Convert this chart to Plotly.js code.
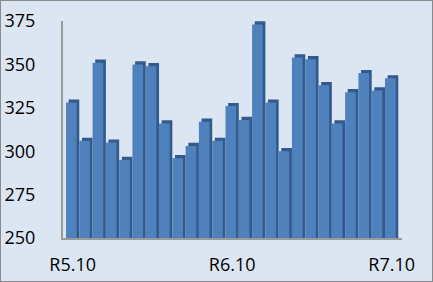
<!DOCTYPE html>
<html>
<head>
<meta charset="utf-8">
<script src="https://cdn.plot.ly/plotly-3.0.1.min.js"></script>
<style>
html,body{margin:0;padding:0;background:#dce6f2;}
#chart{width:431px;height:280px;border:1px solid #8a8a8a;}
</style>
</head>
<body>
<div id="chart"></div>
<script>
const categories = ["R5.10","R5.11","R5.12","R6.1","R6.2","R6.3","R6.4","R6.5","R6.6","R6.7","R6.8","R6.9","R6.10","R6.11","R6.12","R7.1","R7.2","R7.3","R7.4","R7.5","R7.6","R7.7","R7.8","R7.9","R7.10"];
const values = [328,306,351,305,295,350,349,316,296,303,317,306,326,318,373,328,300,354,353,338,316,334,345,335,342];
const tickLabels = ["R5.10","R6.10","R7.10"];

const depth = 1.8;
const xIdx = categories.map((c,i)=>i);
const shadow = {
  type:'bar', x:xIdx, y:values.map(v=>v+depth-250), base:250,
  offset:-0.3, width:0.8,
  marker:{color:'#325a8c'}, hoverinfo:'skip', showlegend:false
};
const front = {
  type:'bar', x:xIdx, y:values.map(v=>v-250), base:250,
  offset:-0.5, width:0.8,
  marker:{color:'#4f81bd'}, showlegend:false
};

const layout = {
  width:431, height:280,
  margin:{l:62, r:30, t:20, b:43},
  paper_bgcolor:'#dce6f2', plot_bgcolor:'#dce6f2',
  barmode:'overlay',
  xaxis:{
    range:[-0.726, 24.78], showgrid:false, zeroline:false,
    showline:true, linecolor:'#9a9a9a', linewidth:2,
    tickvals:tickLabels.map(t=>categories.indexOf(t)), ticktext:tickLabels,
    ticks:'', ticklabelstandoff:9,
    tickfont:{family:'Open Sans', size:18, color:'#000'}
  },
  yaxis:{
    range:[250,375], dtick:25, tick0:250, showgrid:false, zeroline:false,
    showline:true, linecolor:'#9a9a9a', linewidth:2,
    ticks:'', ticklabelstandoff:22,
    tickfont:{family:'Open Sans', size:18, color:'#000'}
  },
  font:{family:'Open Sans'}
};
Plotly.newPlot('chart',[shadow,front],layout,{displayModeBar:false, staticPlot:true});
</script>
</body>
</html>
